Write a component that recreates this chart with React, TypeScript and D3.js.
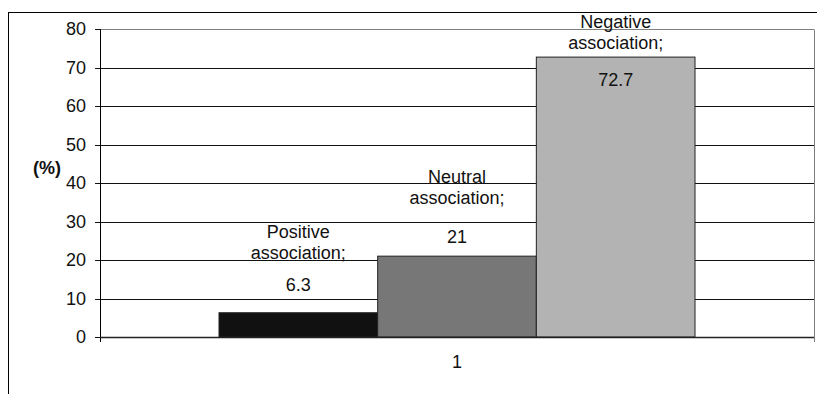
import React from "react";
import * as d3 from "d3";

// Survey shares by association type (%)
const categories = ["Positive association;", "Neutral association;", "Negative association;"];
const labelLines = [["Positive", "association;"], ["Neutral", "association;"], ["Negative", "association;"]];
const values = [6.3, 21, 72.7];
const fills = ["#111111", "#777777", "#b3b3b3"];
const yTicks = [0, 10, 20, 30, 40, 50, 60, 70, 80];
const xCategory = ["1"];

const W = 817;
const H = 394;
const plot = { left: 100, right: 814, top: 29, bottom: 337 };
const FONT = "'Liberation Sans', Arial, sans-serif";
const FS = 18;

// label layout: distance of the value line above the bar top, and gap between name and value
const valueLift = [28, 20, -22];
const nameGap = [32, 39, 37];
const lineStep = 21;

export default function App() {
  const y = d3.scaleLinear().domain([0, 80]).range([plot.bottom, plot.top]);
  const x0 = d3.scaleBand().domain(xCategory).range([plot.left, plot.right]).paddingInner(0).paddingOuter(0);
  const bandW = x0.bandwidth();
  // 150% gap width: groupWidth = 3 bars, gap = 1.5 bars
  const barW = bandW / (values.length + 1.5);
  const groupStart = x0("1")! + (bandW - barW * values.length) / 2;
  const x1 = d3.scaleBand().domain(categories).range([groupStart, groupStart + barW * values.length]).padding(0);

  return (
    <svg width={W} height={H} style={{ position: "absolute", left: 0, top: 0, background: "#fff" }} fontFamily={FONT}>
      {/* chart frame */}
      <rect x={8.5} y={12.5} width={W + 20} height={H + 20} fill="none" stroke="#000" strokeWidth={1} />
      {/* gridlines */}
      {yTicks.map((t) => (
        <line key={t} x1={plot.left - 5} x2={plot.right} y1={Math.round(y(t)) + 0.5} y2={Math.round(y(t)) + 0.5} stroke="#111" strokeWidth={1} />
      ))}
      {/* plot border */}
      <line x1={plot.right + 0.5} x2={plot.right + 0.5} y1={plot.top + 0.5} y2={plot.bottom + 5} stroke="#808080" />
      <line x1={plot.left} x2={plot.right} y1={plot.top + 0.5} y2={plot.top + 0.5} stroke="#808080" />
      {/* bars */}
      {categories.map((c, i) => (
        <rect key={c} x={x1(c)!} y={y(values[i])} width={x1.bandwidth()} height={y(0) - y(values[i])} fill={fills[i]} stroke="#222" strokeWidth={1} />
      ))}
      {/* axes */}
      <line x1={plot.left + 0.5} x2={plot.left + 0.5} y1={plot.top} y2={plot.bottom + 5} stroke="#000" />
      <line x1={plot.left} x2={plot.right} y1={plot.bottom + 0.5} y2={plot.bottom + 0.5} stroke="#222" strokeWidth={1.5} />
      {yTicks.map((t) => (
        <text key={t} x={86} y={y(t)} dy="0.36em" textAnchor="end" fontSize={FS} fill="#111">{t}</text>
      ))}
      <text x={47} y={168} dy="0.36em" textAnchor="middle" fontSize={FS} fontWeight="bold" fill="#111">(%)</text>
      <text x={x0("1")! + bandW / 2} y={362} dy="0.36em" textAnchor="middle" fontSize={FS} fill="#111">1</text>
      {/* data labels */}
      {categories.map((c, i) => {
        const cx = x1(c)! + x1.bandwidth() / 2;
        const vy = y(values[i]) - valueLift[i];
        const firstY = vy - nameGap[i] - lineStep;
        return (
          <g key={c} fontSize={FS} fill="#111" textAnchor="middle">
            {labelLines[i].map((ln, k) => (
              <text key={k} x={cx} y={firstY + k * lineStep} dy="0.36em">{ln}</text>
            ))}
            <text x={cx} y={vy} dy="0.36em">{values[i]}</text>
          </g>
        );
      })}
    </svg>
  );
}
